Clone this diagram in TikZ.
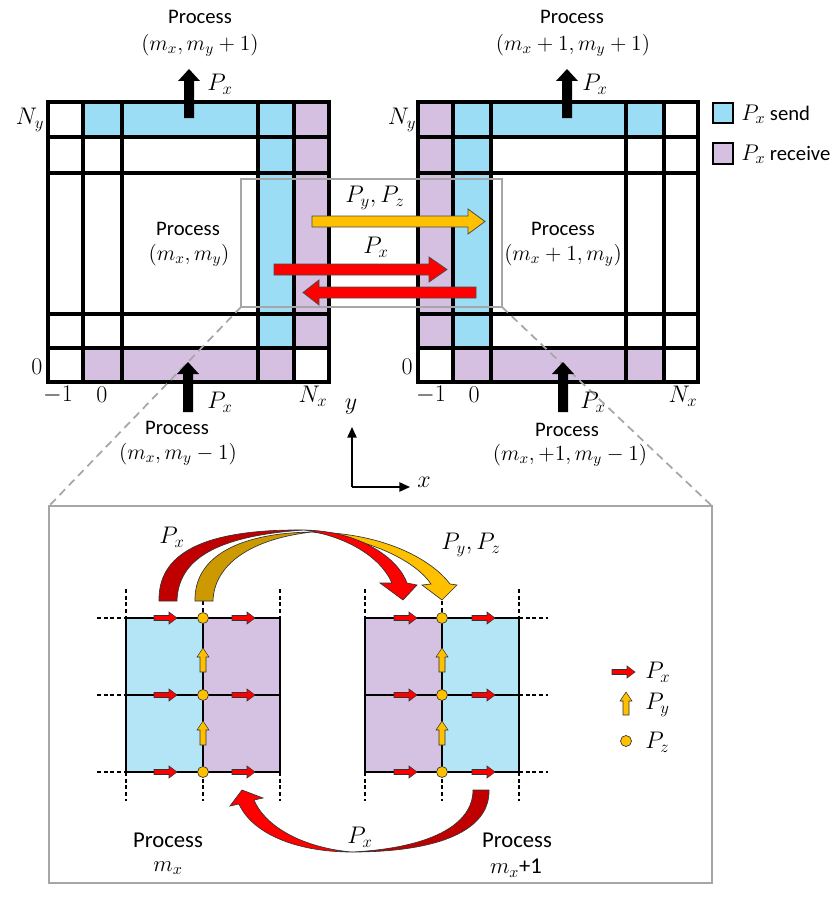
\RequirePackage{fix-cm}
\documentclass[tikz,border=0pt]{standalone}
\usepackage{fontspec}
\setmainfont{Carlito}
\usetikzlibrary{arrows.meta}
\definecolor{gblue}{RGB}{155,221,245}
\definecolor{gpurp}{RGB}{213,192,225}
\definecolor{lblue}{RGB}{180,229,246}
\definecolor{lpurp}{RGB}{213,194,227}
\definecolor{gold}{RGB}{255,192,0}
\definecolor{dgold}{RGB}{204,153,0}
\definecolor{dred}{RGB}{192,0,0}
\definecolor{boxgray}{RGB}{166,166,166}
\newcommand{\redarr}[2]{\filldraw[fill=red,draw=black!80,line width=0.4pt,shift={(#1,#2)}] (0,-2.5) -- (15,-2.5) -- (15,-6) -- (23,0) -- (15,6) -- (15,2.5) -- (0,2.5) -- cycle;}
\newcommand{\yelarr}[2]{\filldraw[fill=gold,draw=black!80,line width=0.4pt,shift={(#1,#2)}] (-3,24) -- (-3,9) -- (-6,9) -- (0,0) -- (6,9) -- (3,9) -- (3,24) -- cycle;}
\newcommand{\yeldot}[2]{\filldraw[fill=gold,draw=black!80,line width=0.5pt] (#1,#2) circle (5.5);}
\begin{document}
\begin{tikzpicture}[x=0.75pt,y=-0.75pt,
  every node/.style={inner sep=0pt,font=\fontsize{15.5pt}{18pt}\selectfont},
  pm/.style={font=\fontsize{16.2pt}{19pt}\selectfont},
  mth/.style={font=\fontsize{18pt}{21pt}\selectfont},
  big/.style={font=\fontsize{17pt}{20pt}\selectfont},
  gridline/.style={line width=2.4pt,line cap=rect},
  thinline/.style={line width=1.1pt},
  dashline/.style={line width=1pt,dash pattern=on 3pt off 2pt},
  blockarr/.style={fill=black},
  midarr/.style={draw=black!70,line width=0.6pt},
  curvarr/.style={draw=black!80,line width=0.5pt}]
\useasboundingbox (0,0) rectangle (830,906);

% ---------- left grid ----------
\fill[gblue] (83,102) rectangle (294,137);
\fill[gblue] (258,137) rectangle (294,348);
\fill[gpurp] (294,102) rectangle (329,348);
\fill[gpurp] (83,348) rectangle (294,382);
\foreach \x in {83,122,258,294} \draw[gridline] (\x,102) -- (\x,382);
\foreach \y in {137,173,314,348} \draw[gridline] (48,\y) -- (329,\y);
\draw[gridline] (48,102) rectangle (329,382);

% ---------- right grid ----------
\fill[gpurp] (418,102) rectangle (453,348);
\fill[gblue] (453,102) rectangle (491,348);
\fill[gblue] (491,102) rectangle (664,137);
\fill[gpurp] (453,348) rectangle (664,382);
\foreach \x in {453,491,626,664} \draw[gridline] (\x,102) -- (\x,382);
\foreach \y in {137,173,314,348} \draw[gridline] (418,\y) -- (698,\y);
\draw[gridline] (418,102) rectangle (698,382);

% ---------- zoom box and guides ----------
\coordinate (zbl) at (241,307);
\coordinate (zbr) at (502,307);
\coordinate (pbl) at (49,506);
\coordinate (pbr) at (712,506);
\draw[boxgray,line width=1.5pt] (241,179) rectangle (502,307);
\draw[boxgray,line width=1.3pt,dash pattern=on 6pt off 4pt] (zbl) -- (pbl);
\draw[boxgray,line width=1.3pt,dash pattern=on 6pt off 4pt] (zbr) -- (pbr);

% ---------- black block arrows ----------
\fill[blockarr] (184,118) -- (184,81) -- (178,81) -- (189,69) -- (200,81) -- (194,81) -- (194,118) -- cycle;
\fill[blockarr] (562,118) -- (562,81) -- (556,81) -- (567,69) -- (578,81) -- (572,81) -- (572,118) -- cycle;
\fill[blockarr] (183,412) -- (183,374) -- (177,374) -- (188,362) -- (199,374) -- (193,374) -- (193,412) -- cycle;
\fill[blockarr] (558,412) -- (558,374) -- (552,374) -- (563,362) -- (574,374) -- (568,374) -- (568,412) -- cycle;

% ---------- middle arrows ----------
\filldraw[fill=gold,midarr] (312,216) -- (468,216) -- (468,209) -- (485,221.5) -- (468,234) -- (468,227) -- (312,227) -- cycle;
\filldraw[fill=red,midarr] (274,264) -- (429,264) -- (429,257) -- (447,269.5) -- (429,282) -- (429,275) -- (274,275) -- cycle;
\filldraw[fill=red,midarr] (476,287) -- (319,287) -- (319,280) -- (303,292.5) -- (319,305) -- (319,298) -- (476,298) -- cycle;

% ---------- top labels ----------
\node (tl1) at (200,17) {Process};
\node[pm] (tl2) at (200,45) {$(m_x,m_y+1)$};
\node (tr1) at (572,17) {Process};
\node[pm] (tr2) at (573,45) {$(m_x+1,m_y+1)$};
\node[mth] (pxtl) at (220,84) {$P_x$};
\node[mth] (pxtr) at (595,84) {$P_x$};
\node[mth] (nyl) at (30,120) {$N_y$};
\node[mth] (nyr) at (402,120) {$N_y$};
\node[mth] (zl) at (37,367) {$0$};
\node[mth] (zr) at (407,367) {$0$};
\node[mth] (m1l) at (58,395) {$-1$};
\node[mth] (z0l) at (102,395) {$0$};
\node[mth] (nxl) at (313,396) {$N_x$};
\node[mth] (m1r) at (431,395) {$-1$};
\node[mth] (z0r) at (474,395) {$0$};
\node[mth] (nxr) at (683,396) {$N_x$};
\node[mth] (pxbl) at (220,402) {$P_x$};
\node[mth] (pxbr) at (593,402) {$P_x$};
\node (bl1) at (177,428) {Process};
\node[pm] (bl2) at (178,454) {$(m_x,m_y-1)$};
\node (br1) at (567,430) {Process};
\node[pm] (br2) at (570,455) {$(m_x,+1,m_y-1)$};
\node (ml1) at (188,229) {Process};
\node[pm] (ml2) at (189,255) {$(m_x,m_y)$};
\node (mr1) at (563,229) {Process};
\node[pm] (mr2) at (563,255) {$(m_x+1,m_y)$};
\node[mth] (pypz) at (375,198) {$P_y,P_z$};
\node[mth] (pxm) at (376,247) {$P_x$};

% legend top
\draw[line width=1.2pt,fill=gblue] (713,103) rectangle (733,123);
\draw[line width=1.2pt,fill=gpurp] (713,143) rectangle (733,164);
\node[anchor=west] (lsend) at (741,114) {{\fontsize{17pt}{19pt}\selectfont$P_x$} send};
\node[anchor=west] (lrecv) at (741,154) {{\fontsize{17pt}{19pt}\selectfont$P_x$} receive};

% axes
\coordinate (ax0) at (352,487);
\coordinate (axy) at (352,427);
\coordinate (axx) at (410,487);
\draw[line width=1.1pt,-{Triangle[length=8pt,width=7pt]}] (ax0) -- (axy);
\draw[line width=1.1pt,-{Triangle[length=8pt,width=7pt]}] (ax0) -- (axx);
\node[mth] (laby) at (351,407) {$y$};
\node[mth] (labx) at (424,482) {$x$};

% ---------- bottom panel ----------
\draw[boxgray,line width=2pt] (49,506) rectangle (712,883);

\fill[lblue] (126,618) rectangle (203,772);
\fill[lpurp] (203,618) rectangle (280,772);
\fill[lpurp] (365,618) rectangle (442,772);
\fill[lblue] (442,618) rectangle (519,772);
\foreach \x in {126,203,280,365,442,519} \draw[thinline] (\x,618) -- (\x,772);
\foreach \y in {618,695,772} {
  \draw[thinline] (126,\y) -- (280,\y);
  \draw[thinline] (365,\y) -- (519,\y);
  \draw[dashline] (97,\y) -- (126,\y);
  \draw[dashline] (519,\y) -- (548,\y);
}
\foreach \x in {126,280,365,519} \draw[dashline] (\x,589) -- (\x,618);
\foreach \x in {203,442} \draw[dashline] (\x,601) -- (\x,618);
\foreach \x in {126,203,280,365,442,519} \draw[dashline] (\x,772) -- (\x,801);

\foreach \y in {618,695,772} {
  \redarr{154}{\y}\redarr{232}{\y}\redarr{394}{\y}\redarr{472}{\y}
}
\yelarr{203}{648}\yelarr{203}{721}
\yelarr{442}{648}\yelarr{442}{721}
\foreach \y in {618,695,772} {\yeldot{203}{\y}\yeldot{442}{\y}}

% curved arrows (top)
\filldraw[fill=dgold,curvarr] (195,601) .. controls (194,556) and (240,533) .. (312,532) .. controls (250,539) and (214,565) .. (213,601) -- cycle;
\filldraw[fill=gold,curvarr] (312,532) .. controls (385,533) and (432,560) .. (450,584) -- (457,585) -- (442,600) -- (422,585) -- (431,584) .. controls (416,562) and (375,540) .. (312,532) -- cycle;
\filldraw[fill=dred,curvarr] (159,601) .. controls (158,555) and (200,529) .. (304,530) .. controls (215,536) and (178,560) .. (177,601) -- cycle;
\filldraw[fill=red,curvarr] (304,530) .. controls (360,531) and (398,558) .. (407,583) -- (417,585) -- (403,600) -- (380,583) -- (392,583) .. controls (380,556) and (345,536) .. (304,530) -- cycle;

% curved arrow (bottom)
\filldraw[fill=dred,curvarr] (489,790) .. controls (490,830) and (440,852) .. (352,852) .. controls (430,848) and (473,825) .. (473,790) -- cycle;
\filldraw[fill=red,curvarr] (352,852) .. controls (295,852) and (252,833) .. (239,804) -- (230,806) -- (242,790) -- (263,798) -- (254,800) .. controls (266,828) and (305,848) .. (352,852) -- cycle;

% panel labels
\node[mth] (ppx) at (172,537) {$P_x$};
\node[mth] (ppypz) at (471,545) {$P_y,P_z$};
\node[mth] (ppxb) at (360,837) {$P_x$};
\node[big] (pl1) at (168,840) {Process};
\node[big] (pl2) at (168,868) {$m_x$};
\node[big] (pr1) at (517,840) {Process};
\node[big] (pr2) at (516,868) {$m_x$+1};

% panel legend
\redarr{612}{672}
\filldraw[fill=gold,draw=black!80,line width=0.4pt] (623,715) -- (623,701) -- (620,701) -- (626,692) -- (632,701) -- (629,701) -- (629,715) -- cycle;
\yeldot{626}{741}
\node[mth,anchor=west] (lpx) at (645,672) {$P_x$};
\node[mth,anchor=west] (lpy) at (645,705) {$P_y$};
\node[mth,anchor=west] (lpz) at (645,742) {$P_z$};
\end{tikzpicture}
\end{document}
